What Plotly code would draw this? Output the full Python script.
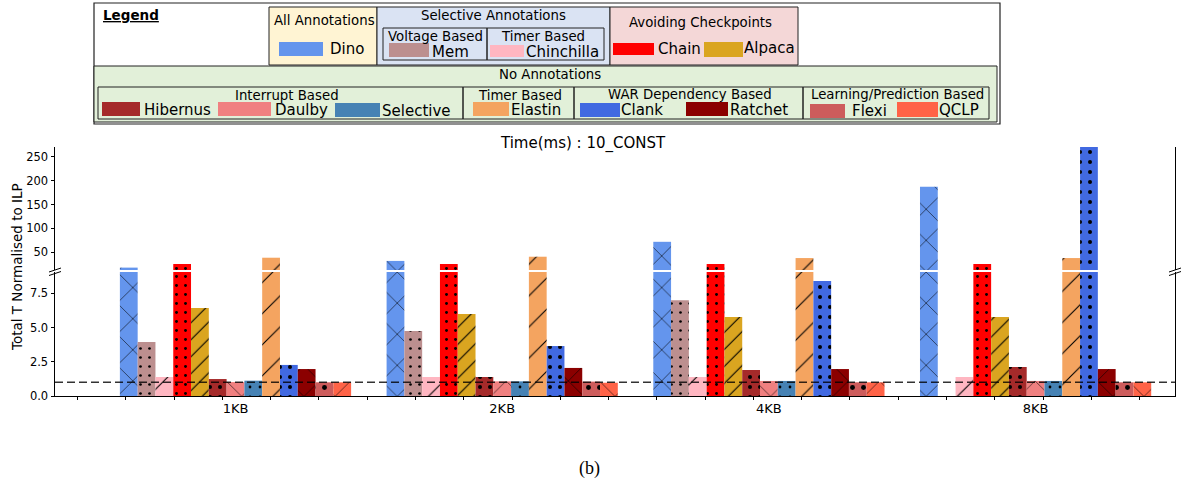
import plotly.graph_objects as go

# ---------------- data ----------------
categories = ["1KB", "2KB", "4KB", "8KB"]
Dino = [18, 32, 72, 187]
Mem = [3.95, 4.75, 7.0, 0]
Chinchilla = [1.39, 1.39, 1.39, 1.39]
Chain = [25.5, 25.5, 25.5, 25.5]
Alpaca = [6.43, 6.0, 5.77, 5.77]
Hibernus = [1.24, 1.39, 1.9, 2.12]
Daulby = [1.02, 1.07, 1.1, 1.1]
Selective = [1.12, 1.07, 1.1, 1.1]
Elastin = [38.7, 40.8, 38.0, 38.0]
Clank = [2.27, 3.65, 8.4, 275]
Ratchet = [1.97, 2.05, 1.97, 1.97]
Flexi = [1.0, 1.05, 1.0, 1.0]
QCLP = [1.0, 0.97, 1.0, 1.0]
baseline = 1.0

series = [
    ("Dino", Dino, "#6495ED", "x", 22, 0.05),
    ("Mem", Mem, "#BC8F8F", ".", 9, 0.07),
    ("Chinchilla", Chinchilla, "#FFB6C1", "/", 22, 0.05),
    ("Chain", Chain, "#FF0000", ".", 9, 0.08),
    ("Alpaca", Alpaca, "#DAA520", "/", 12, 0.09),
    ("Hibernus", Hibernus, "#A52A2A", ".", 10, 0.13),
    ("Daulby", Daulby, "#F08080", "x", 22, 0.05),
    ("Selective", Selective, "#4682B4", ".", 10, 0.06),
    ("Elastin", Elastin, "#F4A460", "/", 22, 0.05),
    ("Clank", Clank, "#4169E1", ".", 10, 0.13),
    ("Ratchet", Ratchet, "#8B0000", "x", 22, 0.05),
    ("Flexi", Flexi, "#CD5C5C", ".", 11, 0.16),
    ("QCLP", QCLP, "#FF6347", "x", 22, 0.05),
]

W, H = 1181, 486
ML, MR, MT, MB = 55, 6, 147, 90
PW, PH = W - ML - MR, H - MT - MB


def fx(px):
    return (px - ML) / PW


def fy(py):
    return (H - MB - py) / PH


FONT = "DejaVu Sans"
xpos = list(range(len(categories)))

fig = go.Figure()
for yax in ["y", "y2"]:
    for name, vals, col, shp, sz, sol in series:
        fig.add_trace(go.Bar(
            x=xpos, y=vals, name=name, yaxis=yax, xaxis="x",
            marker=dict(color=col, line=dict(width=0),
                        pattern=dict(shape=shp, size=sz, solidity=sol,
                                     fgcolor="black", fgopacity=1)),
            showlegend=False,
        ))

shapes = []
annotations = []

# dashed baseline
shapes.append(dict(type="line", xref="paper", x0=0, x1=1, yref="y",
                   y0=baseline, y1=baseline,
                   line=dict(color="rgba(0,0,0,0.8)", width=1.5, dash="8px,4px"),
                   layer="above"))

# break marks on left and right spine
for xs in (55, 1175):
    for yb in (270, 273.5):
        shapes.append(dict(type="line", xref="paper", yref="paper",
                           x0=fx(xs - 6), y0=fy(yb + 2), x1=fx(xs + 6), y1=fy(yb - 2),
                           line=dict(color="black", width=1)))

# ---------------- custom legend ----------------
def rect(x0, y0, x1, y1, fill="rgba(0,0,0,0)", lw=1.0):
    shapes.append(dict(type="rect", xref="paper", yref="paper",
                       x0=fx(x0), x1=fx(x1), y0=fy(y0), y1=fy(y1),
                       fillcolor=fill, line=dict(color="#222222", width=lw),
                       layer="above"))


def swatch(x0, y0, x1, y1, fill):
    shapes.append(dict(type="rect", xref="paper", yref="paper",
                       x0=fx(x0), x1=fx(x1), y0=fy(y0), y1=fy(y1),
                       fillcolor=fill, line=dict(width=0), layer="above"))


def text(x, y, s, size=13, anchor="center"):
    annotations.append(dict(x=fx(x), y=fy(y), xref="paper", yref="paper",
                            text=s, showarrow=False, xanchor=anchor, yanchor="middle",
                            font=dict(family=FONT, size=size, color="black")))


rect(94, 3, 1000, 124, fill="white", lw=1.2)
rect(269, 7, 377, 65, fill="#FFF4D3")
rect(377, 7, 610, 65, fill="#DAE3F3")
rect(383, 28, 487, 60)
rect(487, 28, 604, 60)
rect(610, 7, 798, 65, fill="#F4D7D7")
rect(94, 66, 997, 122, fill="#E2F0D9")
rect(98, 87, 463, 119)
rect(463, 87, 574, 119)
rect(574, 87, 803, 119)
rect(803, 87, 989, 119)

colors = {n: c for n, _, c, _, _, _ in series}

HS = 13.3
text(101, 15, "<u><b>Legend</b></u>", 13.5, "left")
text(324, 21, "All Annotations", HS)
swatch(279, 42, 323, 56, colors["Dino"]); text(328, 49, "Dino", 15, "left")
text(493, 16, "Selective Annotations", HS)
text(435, 36, "Voltage Based", HS)
swatch(389, 43, 429, 57, colors["Mem"]); text(430, 52, "Mem", 15, "left")
text(543, 36, "Timer Based", HS)
swatch(490, 45, 524, 57, colors["Chinchilla"]); text(524, 52, "Chinchilla", 15, "left")
text(700, 22, "Avoiding Checkpoints", HS)
swatch(613, 43, 654, 55, colors["Chain"]); text(656, 49, "Chain", 15, "left")
swatch(704, 42, 743, 57, colors["Alpaca"]); text(742, 48, "Alpaca", 15, "left")
text(550, 75, "No Annotations", HS)
text(287, 96, "Interrupt Based", HS)
swatch(102, 102, 140, 116, colors["Hibernus"]); text(142, 110, "Hibernus", 15, "left")
swatch(218, 102, 271, 116, colors["Daulby"]); text(273, 110, "Daulby", 15, "left")
swatch(335, 103, 380, 117, colors["Selective"]); text(380, 111, "Selective", 15, "left")
text(520, 96, "Timer Based", HS)
swatch(473, 102, 509, 116, colors["Elastin"]); text(509, 110, "Elastin", 15, "left")
text(690, 94, "WAR Dependency Based", HS)
swatch(580, 103, 620, 117, colors["Clank"]); text(619, 110, "Clank", 15, "left")
swatch(686, 102, 728, 116, colors["Ratchet"]); text(728, 110, "Ratchet", 15, "left")
text(897, 94, "Learning/Prediction Based", HS)
swatch(810, 104, 845, 118, colors["Flexi"]); text(850, 111, "Flexi", 15, "left")
swatch(897, 102, 938, 117, colors["QCLP"]); text(937, 110, "QCLP", 15, "left")

# title, y label, caption
text(583, 143, "Time(ms) : 10_CONST", 15)
annotations.append(dict(x=fx(17), y=fy(267), xref="paper", yref="paper",
                        xanchor="center", yanchor="middle",
                        text="Total T Normalised to ILP", textangle=-90, showarrow=False,
                        font=dict(family=FONT, size=13.5, color="black")))
annotations.append(dict(x=fx(589), y=fy(468), xref="paper", yref="paper",
                        xanchor="center", yanchor="middle",
                        text="(b)", showarrow=False,
                        font=dict(family="Liberation Serif", size=18, color="black")))

x_lo = (55 - 235.5) / 266.7
x_hi = (1175 - 235.5) / 266.7

fig.update_layout(
    width=W, height=H,
    margin=dict(l=ML, r=MR, t=MT, b=MB),
    paper_bgcolor="white", plot_bgcolor="white",
    barmode="group", bargap=0.133, bargroupgap=0,
    font=dict(family=FONT, color="black"),
    shapes=shapes, annotations=annotations,
    xaxis=dict(range=[x_lo, x_hi], tickvals=xpos, ticktext=categories,
               showline=True, linecolor="black", linewidth=1.3,
               ticks="outside", ticklen=0, tickcolor="black",
               minor=dict(ticks="outside", ticklen=3, tickcolor="black",
                          tick0=-0.592, dtick=0.181),
               showgrid=False, zeroline=False, anchor="y",
               tickfont=dict(size=13, family=FONT)),
    yaxis=dict(domain=[0, fy(272)], range=[0, 9.06],
               tickvals=[0, 2.5, 5, 7.5], ticktext=["0.0", "2.5", "5.0", "7.5"],
               showline=True, linecolor="black", linewidth=1, mirror=True,
               ticks="outside", ticklen=3.5, tickcolor="black",
               showgrid=False, zeroline=False, anchor="x",
               tickfont=dict(size=11.5, family=FONT)),
    yaxis2=dict(domain=[fy(270), 1], range=[13, 270.3],
                tickvals=[50, 100, 150, 200, 250],
                showline=True, linecolor="black", linewidth=1, mirror=True,
                ticks="outside", ticklen=3.5, tickcolor="black",
                showgrid=False, zeroline=False, anchor="x",
                tickfont=dict(size=11.5, family=FONT)),
)

fig.write_html("out.html", config={"displayModeBar": False},
               post_script="document.body.style.margin='0px';")
